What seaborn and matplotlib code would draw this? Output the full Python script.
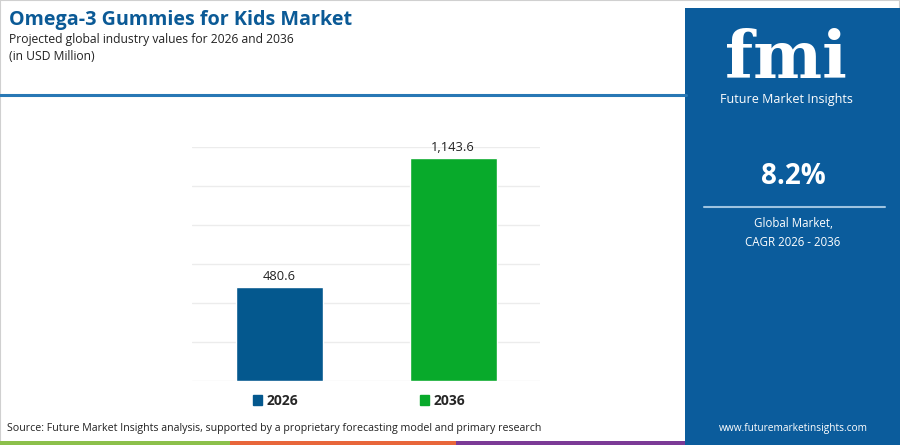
import matplotlib
matplotlib.use("Agg")
import matplotlib.pyplot as plt
import pandas as pd
import seaborn as sns

# Donnees du graphique
years = ["2026", "2036"]
values = [480.6, 1143.6]
value_labels = ["480.6", "1,143.6"]
bar_colors = ["#04588E", "#08AA2B"]

title = "Omega-3 Gummies for Kids Market"
subtitle = "Projected global industry values for 2026 and 2036"
unit = "(in USD Million)"
source = "Source: Future Market Insights analysis, supported by a proprietary forecasting model and primary research"
cagr = "8.2%"
cagr_text = "Global Market,\nCAGR 2026 - 2036"

panel_blue = "#0B5C9C"
title_blue = "#0B5A96"

sns.set_theme(style="white")
plt.rcParams["font.family"] = ["Open Sans", "DejaVu Sans"]

W, H = 900, 445
fig = plt.figure(figsize=(9, 4.45), dpi=100)

def fx(px):
    return px / W

def fy(py):
    return 1 - py / H

# Cadre gris fin
fig.add_artist(plt.Rectangle((0, 0), 1, 1, transform=fig.transFigure,
                             fill=False, edgecolor="#d0d0d0", lw=1.5))

# Titres
fig.text(fx(9), fy(20), title, color=title_blue, fontsize=14.2,
         fontweight="bold", va="center", ha="left")
fig.text(fx(9), fy(39), subtitle, color="#222222", fontsize=8.7,
         va="center", ha="left")
fig.text(fx(9), fy(56), unit, color="#222222", fontsize=8.7,
         va="center", ha="left")

# Ligne bleue horizontale
fig.add_artist(plt.Line2D([0, fx(686)], [fy(95), fy(95)], color="#2878B5",
                          lw=2.2, transform=fig.transFigure))

# Bande de couleurs en bas
for x0, x1, c in [(0, 230, "#8CC04B"), (230, 456, "#E8663A"), (456, 686, "#7B3A96")]:
    fig.add_artist(plt.Rectangle((fx(x0), 0), fx(x1 - x0), fy(441), transform=fig.transFigure,
                                 color=c, lw=0))

# Panneau bleu a droite
fig.add_artist(plt.Rectangle((fx(685), 0), fx(215), fy(8), transform=fig.transFigure,
                             color=panel_blue, lw=0))
fig.text(fx(786), fy(78), "fmi", color="white", fontsize=47, fontweight="bold",
         family="DejaVu Serif", ha="center", va="baseline")
for yy in range(27, 79, 5):
    fig.add_artist(plt.Line2D([fx(720), fx(855)], [fy(yy), fy(yy)], color=panel_blue,
                              lw=1.0, transform=fig.transFigure))
fig.text(fx(786), fy(99), "Future Market Insights", color="white", fontsize=9,
         ha="center", va="center")
fig.text(fx(793), fy(176), cagr, color="white", fontsize=20, fontweight="bold",
         ha="center", va="center")
fig.add_artist(plt.Line2D([fx(704), fx(885)], [fy(207), fy(207)], color="#9EC3E0",
                          lw=1.5, transform=fig.transFigure))
fig.text(fx(793), fy(233), cagr_text, color="white", fontsize=8.3,
         ha="center", va="center", linespacing=1.6)
fig.text(fx(793), fy(428), "www.futuremarketinsights.com", color="white", fontsize=7.3,
         ha="center", va="center")

# Source
fig.text(fx(7), fy(429), source, color="#222222", fontsize=7.7, ha="left", va="center")

# Graphique a barres
df = pd.DataFrame({"year": years, "value": values})
ax = fig.add_axes([fx(192), fy(381), fx(540 - 192), (381 - 147) / H])
sns.barplot(data=df, x="year", y="value", hue="year", palette=bar_colors,
            width=0.5, ax=ax, legend=False, saturation=1)
ax.set_xlim(-0.5, 1.5)
ax.set_ylim(0, 1200)
ax.set_yticks(range(0, 1201, 200))
ax.yaxis.grid(True, color="#ececec", lw=1)
ax.set_axisbelow(True)
ax.set_yticklabels([])
ax.set_xticks([])
ax.set_xlabel("")
ax.set_ylabel("")
sns.despine(ax=ax, left=True, bottom=True)

for i, (v, lab) in enumerate(zip(values, value_labels)):
    ax.text(i, v + 22, lab, ha="center", va="bottom", fontsize=9.3, color="#222222")

# Legende
handles = [plt.Rectangle((0, 0), 1, 1, color=c) for c in bar_colors]
leg = fig.legend(handles, years, loc="center", bbox_to_anchor=(fx(359), fy(401)), ncol=2,
                 frameon=False, handlelength=0.65, handleheight=0.65, handletextpad=0.3,
                 columnspacing=8.8, prop={"weight": "bold", "size": 10})

fig.savefig("out.png", dpi=100)
